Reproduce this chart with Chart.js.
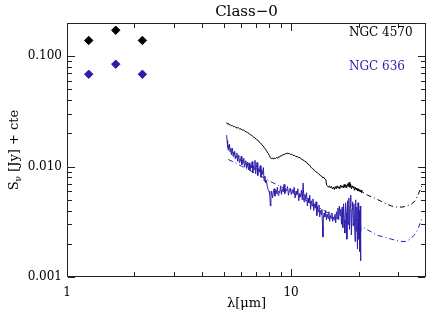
<!DOCTYPE html>
<html>
<head>
<meta charset="utf-8">
<script src="https://cdn.jsdelivr.net/npm/chart.js@4/dist/chart.umd.min.js"></script>
<style>
  html,body{margin:0;padding:0;background:#fff;}
  #wrap{width:436px;height:319px;}
</style>
</head>
<body>
<div id="wrap"><canvas id="sed"></canvas></div>
<script>
// photometric points (2MASS J, H, K)
const photLambda=[1.25,1.65,2.17];
const photNGC4570=[0.139,0.172,0.139];
const photNGC636=[0.0687,0.0847,0.0687];

// IRS spectrum, NGC 4570
const specLambda4570=[5.16,5.2,5.25,5.3,5.35,5.41,5.47,5.53,5.6,5.67,5.74,5.82,5.9,5.98,6.06,6.14,6.22,6.3,6.4,6.5,6.6,6.7,6.8,6.9,7.0,7.1,7.2,7.3,7.4,7.5,7.6,7.7,7.8,7.9,8.0,8.08,8.16,8.24,8.32,8.4,8.5,8.6,8.7,8.8,8.9,9.0,9.1,9.2,9.3,9.4,9.5,9.6,9.7,9.8,9.9,10.05,10.2,10.35,10.5,10.65,10.8,10.95,11.1,11.3,11.5,11.7,11.9,12.1,12.3,12.5,12.7,12.9,13.1,13.3,13.5,13.7,13.85,14.0,14.15,14.3,14.4,14.55,14.7,14.85,15.0,15.15,15.3,15.45,15.6,15.75,15.9,16.05,16.2,16.35,16.5,16.65,16.8,16.95,17.1,17.25,17.4,17.55,17.7,17.85,18.0,18.15,18.3,18.45,18.6,18.75,18.9,19.05,19.2,19.35,19.5,19.65,19.8,19.95,20.1,20.25,20.4,20.55,20.7];
const specFlux4570=[0.0251,0.0243,0.0246,0.0238,0.0240,0.0234,0.0236,0.0230,0.0231,0.0226,0.0224,0.0225,0.0219,0.0220,0.0214,0.0215,0.0209,0.0207,0.0203,0.0199,0.0194,0.0191,0.0185,0.0182,0.0176,0.0174,0.0167,0.0164,0.0158,0.0154,0.0148,0.0143,0.0137,0.0132,0.0126,0.0121,0.0118,0.0120,0.0117,0.0119,0.0118,0.0121,0.0119,0.0123,0.0122,0.0126,0.0125,0.0129,0.0128,0.0131,0.0130,0.0133,0.0131,0.0132,0.0129,0.0130,0.0126,0.0127,0.0123,0.0124,0.0120,0.0121,0.0117,0.0115,0.0112,0.0110,0.0105,0.0103,0.0098,0.0096,0.0092,0.0090,0.0088,0.0086,0.0083,0.0082,0.0079,0.0080,0.0077,0.0076,0.0068,0.0067,0.0065,0.0067,0.0064,0.0066,0.0063,0.0065,0.0062,0.0066,0.0063,0.0067,0.0064,0.0066,0.0063,0.0068,0.0065,0.0067,0.0064,0.0069,0.0065,0.0068,0.0064,0.0070,0.0066,0.0072,0.0065,0.0069,0.0063,0.0067,0.0064,0.0066,0.0061,0.0065,0.0062,0.0064,0.0060,0.0063,0.0060,0.0062,0.0059,0.0061,0.0058];

// IRS spectrum, NGC 636
const specLambda636=[5.16,5.18,5.2,5.22,5.24,5.26,5.29,5.31,5.34,5.37,5.39,5.42,5.45,5.48,5.51,5.54,5.57,5.6,5.63,5.66,5.7,5.73,5.77,5.8,5.84,5.87,5.91,5.95,5.99,6.03,6.07,6.11,6.15,6.19,6.23,6.28,6.32,6.37,6.41,6.46,6.5,6.55,6.6,6.65,6.7,6.75,6.8,6.85,6.9,6.95,7.0,7.05,7.1,7.16,7.22,7.28,7.34,7.4,7.46,7.52,7.58,7.64,7.7,7.76,7.83,7.9,7.97,8.03,8.08,8.13,8.19,8.26,8.33,8.4,8.47,8.54,8.61,8.68,8.75,8.82,8.9,8.98,9.06,9.14,9.22,9.3,9.38,9.46,9.55,9.64,9.73,9.82,9.92,10.02,10.12,10.22,10.32,10.42,10.52,10.62,10.72,10.82,10.92,11.02,11.12,11.22,11.32,11.42,11.52,11.62,11.72,11.82,11.92,12.02,12.12,12.22,12.32,12.42,12.52,12.62,12.72,12.82,12.92,13.02,13.12,13.22,13.32,13.42,13.52,13.62,13.72,13.82,13.87,13.94,14.04,14.14,14.26,14.38,14.5,14.62,14.74,14.86,14.98,15.1,15.22,15.34,15.46,15.58,15.7,15.82,15.94,16.06,16.18,16.3,16.42,16.54,16.66,16.78,16.9,17.02,17.14,17.26,17.38,17.5,17.62,17.74,17.86,17.98,18.1,18.22,18.34,18.46,18.58,18.7,18.82,18.94,19.06,19.18,19.3,19.42,19.54,19.66,19.78,19.9,20.02,20.14,20.26,20.36,20.42,20.48,20.52];
const specFlux636=[0.0193,0.0172,0.0150,0.0162,0.0141,0.0155,0.0149,0.0160,0.0136,0.0147,0.0142,0.0128,0.0146,0.0139,0.0124,0.0135,0.0129,0.0138,0.0118,0.0126,0.0121,0.0133,0.0112,0.0119,0.0127,0.0109,0.0116,0.0113,0.0124,0.0104,0.0115,0.0108,0.0119,0.0099,0.0106,0.0113,0.0097,0.0109,0.0101,0.0094,0.0108,0.0092,0.0103,0.0097,0.0111,0.0088,0.0102,0.0094,0.0114,0.0086,0.0098,0.0109,0.0083,0.0096,0.0089,0.0102,0.0080,0.0093,0.0085,0.0098,0.0074,0.0082,0.0071,0.0075,0.0066,0.0062,0.0060,0.0056,0.0044,0.0054,0.0060,0.0052,0.0058,0.0063,0.0054,0.0061,0.0057,0.0065,0.0055,0.0060,0.0058,0.0067,0.0056,0.0063,0.0059,0.0069,0.0057,0.0062,0.0060,0.0066,0.0055,0.0061,0.0064,0.0056,0.0062,0.0058,0.0065,0.0052,0.0060,0.0056,0.0063,0.0049,0.0057,0.0053,0.0061,0.0050,0.0071,0.0048,0.0056,0.0051,0.0058,0.0044,0.0052,0.0047,0.0055,0.0041,0.0049,0.0044,0.0051,0.0040,0.0046,0.0042,0.0048,0.0036,0.0043,0.0039,0.0045,0.0035,0.0040,0.0037,0.0041,0.0029,0.0023,0.0034,0.0038,0.0035,0.0040,0.0033,0.0037,0.0034,0.0039,0.0032,0.0036,0.0034,0.0038,0.0032,0.0035,0.0033,0.0037,0.0031,0.0039,0.0034,0.0042,0.0033,0.0044,0.0036,0.0041,0.0030,0.0043,0.0028,0.0046,0.0033,0.0025,0.0047,0.0038,0.0022,0.0049,0.0030,0.0052,0.0027,0.0044,0.0055,0.0024,0.0041,0.0048,0.0029,0.0046,0.0034,0.0021,0.0050,0.0026,0.0043,0.0018,0.0047,0.0022,0.0040,0.0017,0.0044,0.0014,0.0031,0.0026];

// dash-dot model curves
const modelLambda4570=[19.5,20.7,22.0,23.5,25.0,26.5,28.1,29.5,31.3,33.0,34.5,35.8,36.8,37.7,38.4];
const modelFlux4570=[0.0063,0.0059,0.0055,0.0052,0.0049,0.0046,0.0044,0.0043,0.0043,0.0044,0.0046,0.0049,0.0055,0.0062,0.0068];
const modelLambda636=[5.25,5.6,6.0,6.5,7.0,7.5,8.0,9.0,10.0,11.0,12.0,13.0,14.0,15.0,16.0,17.0,18.0,19.0,20.0,21.0,22.5,24.0,26.0,28.0,30.7,32.5,34.0,35.5,36.8,37.7,38.4];
const modelFlux636=[0.0116,0.0109,0.0101,0.0093,0.0086,0.0080,0.0074,0.0066,0.0059,0.0053,0.0048,0.0044,0.0040,0.0037,0.0034,0.0032,0.0031,0.0030,0.0029,0.0028,0.0026,0.0024,0.0023,0.0022,0.0021,0.0021,0.0022,0.0024,0.0027,0.0031,0.0034];

// axis ticks
const xMajor=[1,10];
const xMinor=[2,3,4,5,6,7,8,9,20,30];
const yMajor=[0.001,0.01,0.1];
const yMinor=[0.002,0.003,0.004,0.005,0.006,0.007,0.008,0.009,0.02,0.03,0.04,0.05,0.06,0.07,0.08,0.09,0.2];
const xLabels=['1','10'];
const yLabels=['0.001','0.010','0.100'];

const BLUE='#2d1eaa';
const FONT='"DejaVu Serif", serif';

const pts=(xs,ys)=>xs.map((x,i)=>({x,y:ys[i]}));

// box with inward ticks on all four sides, plus texts
const framePlugin={
  id:'frame',
  afterDraw(chart){
    const c=chart.ctx, a=chart.chartArea;
    const xs=chart.scales.x, ys=chart.scales.y;
    const L=Math.round(a.left), R=Math.round(a.right)-1;
    const T=Math.round(a.top), B=Math.round(a.bottom)-1;
    c.save();
    c.fillStyle='#222';
    c.fillRect(L,T,R-L+1,1); c.fillRect(L,B,R-L+1,1);
    c.fillRect(L,T,1,B-T+1); c.fillRect(R,T,1,B-T+1);
    const xt=(v,len)=>{
      const p=Math.round(xs.getPixelForValue(v));
      c.fillRect(p,B-len,1,len);
      c.fillRect(p,T+1,1,len);
    };
    const yt=(v,len)=>{
      const p=Math.round(ys.getPixelForValue(v));
      c.fillRect(L+1,p,len,1);
      c.fillRect(R-len,p,len,1);
    };
    xMajor.forEach(v=>xt(v,7)); xMinor.forEach(v=>xt(v,4));
    yMajor.forEach(v=>yt(v,7)); yMinor.forEach(v=>yt(v,4));

    c.fillStyle='#000'; c.textBaseline='middle';
    c.font='15px '+FONT; c.textAlign='center';
    c.fillText('Class\u22120',(a.left+a.right)/2,12);
    c.font='13px '+FONT;
    c.fillText('\u03bb[\u03bcm]',(a.left+a.right)/2,304);

    c.font='12px '+FONT; c.textAlign='left';
    c.fillText('NGC 4570',349,33);
    c.fillStyle=BLUE;
    c.fillText('NGC 636',349,67);

    // rotated y title with subscript nu
    c.fillStyle='#000';
    c.translate(15,(a.top+a.bottom)/2); c.rotate(-Math.PI/2);
    const s1='S', s3=' [Jy] + cte';
    c.font='9px '+FONT; const wNu=c.measureText('\u03bd').width;
    c.font='13px '+FONT;
    const w1=c.measureText(s1).width, w3=c.measureText(s3).width;
    let x0=-(w1+wNu+w3)/2;
    c.textAlign='left';
    c.fillText(s1,x0,0); x0+=w1;
    c.font='9px '+FONT; c.fillText('\u03bd',x0,4); x0+=wNu;
    c.font='13px '+FONT; c.fillText(s3,x0,0);
    c.restore();
  }
};

new Chart(document.getElementById('sed'),{
  type:'scatter',
  data:{datasets:[
    {type:'line',data:pts(modelLambda636,modelFlux636),borderColor:BLUE,borderWidth:1,
     borderDash:[5,3,1,3],pointRadius:0,tension:0},
    {type:'line',data:pts(modelLambda4570,modelFlux4570),borderColor:'#000',borderWidth:1,
     borderDash:[5,3,1,3],pointRadius:0,tension:0},
    {type:'line',data:pts(specLambda636,specFlux636),borderColor:BLUE,borderWidth:1,
     pointRadius:0,tension:0},
    {type:'line',data:pts(specLambda4570,specFlux4570),borderColor:'#000',borderWidth:1,
     pointRadius:0,tension:0},
    {data:pts(photLambda,photNGC4570),pointStyle:'rectRot',pointRadius:4.2,
     backgroundColor:'#000',borderColor:'#000',borderWidth:1},
    {data:pts(photLambda,photNGC636),pointStyle:'rectRot',pointRadius:4.2,
     backgroundColor:BLUE,borderColor:BLUE,borderWidth:1}
  ]},
  options:{
    responsive:true,maintainAspectRatio:false,animation:false,
    layout:{padding:{top:23,right:10,left:0,bottom:0}},
    plugins:{legend:{display:false},tooltip:{enabled:false}},
    scales:{
      x:{type:'logarithmic',min:1,max:40,
        grid:{display:false,drawTicks:false},border:{display:false},
        afterBuildTicks:s=>{s.ticks=xMajor.map(v=>({value:v}));},
        afterFit:s=>{s.height=42;},
        ticks:{padding:9,color:'#000',font:{family:FONT,size:12},
          callback:(v)=>{const i=xMajor.indexOf(v);return i<0?'':xLabels[i];}}},
      y:{type:'logarithmic',min:0.001,max:0.2,
        grid:{display:false,drawTicks:false},border:{display:false},
        afterBuildTicks:s=>{s.ticks=yMajor.map(v=>({value:v}));},
        afterFit:s=>{s.width=67;},
        ticks:{padding:5,color:'#000',font:{family:FONT,size:12},
          callback:(v)=>{const i=yMajor.findIndex(m=>Math.abs(m-v)<m*1e-6);return i<0?'':yLabels[i];}}}
    }
  },
  plugins:[framePlugin]
});
</script>
</body>
</html>
